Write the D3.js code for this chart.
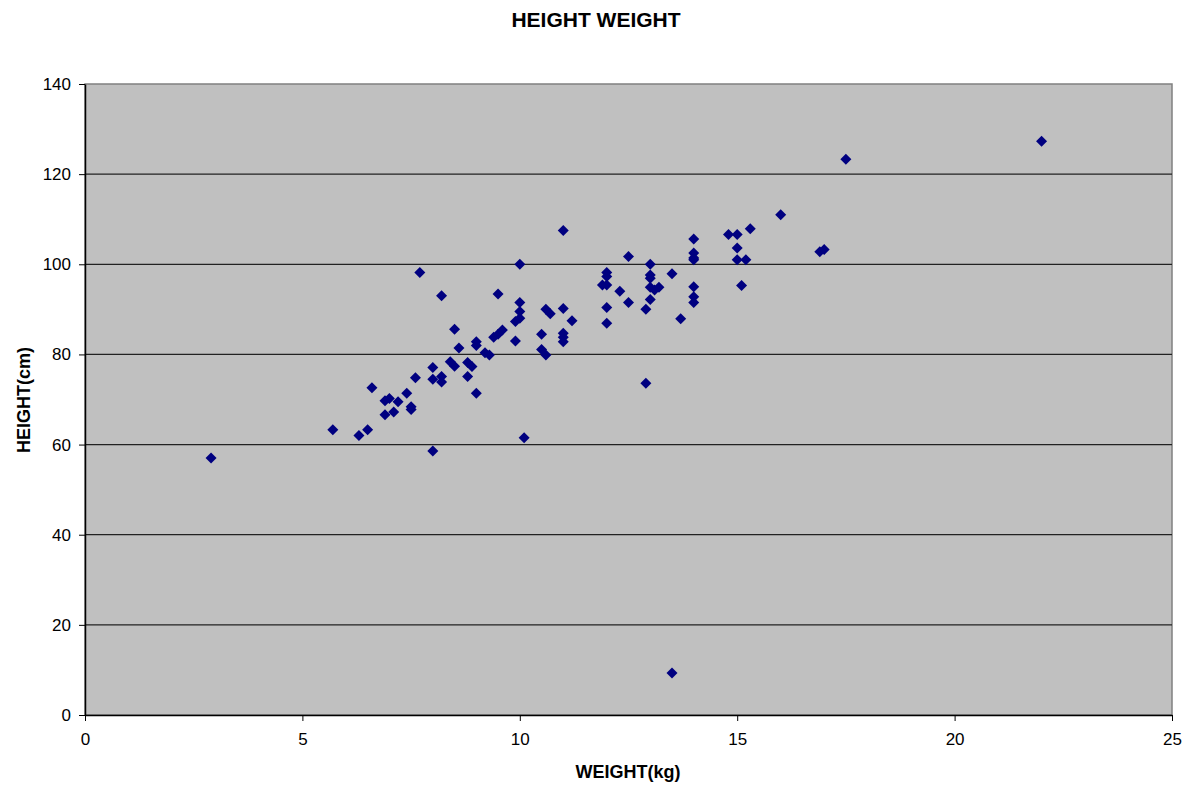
<!DOCTYPE html>
<html>
<head>
<meta charset="utf-8">
<script src="https://cdn.jsdelivr.net/npm/d3@7"></script>
<style>
  body { margin: 0; background: #fff; }
  text { font-family: Arial, "Liberation Sans", sans-serif; fill: #000; }
</style>
</head>
<body>
<div id="chart"></div>
<script>
// weight (kg)
const weight = [2.9, 5.7, 6.3, 6.5, 6.6, 6.9, 6.9, 7.0, 7.1, 7.2, 7.4, 7.5, 7.5, 7.6, 7.7,
  8.0, 8.0, 8.0, 8.2, 8.2, 8.2, 8.4, 8.5, 8.5, 8.6, 8.8, 8.8, 8.9, 9.0, 9.0, 9.0,
  9.2, 9.3, 9.4, 9.5, 9.5, 9.6, 9.9, 9.9, 10.0, 10.0, 10.0, 10.0, 10.1, 10.5, 10.5,
  10.6, 10.6, 10.7, 11.0, 11.0, 11.0, 11.0, 11.0, 11.2, 11.9, 12.0, 12.0, 12.0, 12.0,
  12.0, 12.3, 12.5, 12.5, 12.9, 12.9, 13.0, 13.0, 13.0, 13.0, 13.0, 13.1, 13.2, 13.5,
  13.5, 13.7, 14.0, 14.0, 14.0, 14.0, 14.0, 14.0, 14.0, 14.8, 15.0, 15.0, 15.0, 15.1,
  15.2, 15.3, 16.0, 16.9, 17.0, 17.5, 22.0];
// height (cm)
const height = [57.0, 63.3, 62.0, 63.3, 72.6, 66.6, 69.7, 70.2, 67.2, 69.5, 71.4, 68.4, 67.8, 74.8, 98.2,
  77.1, 74.5, 58.6, 75.1, 73.9, 93.0, 78.4, 77.4, 85.6, 81.4, 78.2, 75.1, 77.3, 82.8, 82.0, 71.4,
  80.4, 79.9, 83.8, 84.5, 93.4, 85.4, 83.0, 87.3, 88.0, 89.5, 91.5, 100.0, 61.5, 84.5, 81.1,
  79.9, 90.0, 89.0, 107.5, 90.2, 84.7, 83.8, 82.8, 87.5, 95.4, 98.2, 97.3, 95.4, 90.4,
  86.9, 94.0, 101.7, 91.5, 90.0, 73.6, 100.0, 97.6, 96.9, 94.9, 92.2, 94.3, 94.9, 97.9,
  9.3, 87.9, 105.6, 102.5, 101.4, 101.0, 95.0, 92.8, 91.5, 106.6, 106.6, 103.6, 101.0, 95.3,
  101.0, 107.9, 111.0, 102.8, 103.3, 123.3, 127.3];
const xTicks = [0, 5, 10, 15, 20, 25];
const yTicks = [0, 20, 40, 60, 80, 100, 120, 140];

const W = 1189, H = 788;
const margin = { top: 84, right: 17, bottom: 73, left: 85 };
const iw = W - margin.left - margin.right;
const ih = H - margin.top - margin.bottom;

const svg = d3.select("#chart").append("svg")
  .attr("width", W).attr("height", H);

const g = svg.append("g")
  .attr("transform", `translate(${margin.left},${margin.top})`);

const x = d3.scaleLinear().domain([0, 25]).range([0, iw]);
const y = d3.scaleLinear().domain([0, 140]).range([ih, 0]);

// plot area
g.append("rect")
  .attr("width", iw).attr("height", ih)
  .attr("fill", "#c0c0c0")
  .attr("stroke", "#808080").attr("stroke-width", 1.5);

// gridlines
g.selectAll(".grid")
  .data(yTicks.filter(d => d > 0 && d < 140))
  .enter().append("line")
  .attr("x1", 0).attr("x2", iw)
  .attr("y1", d => y(d)).attr("y2", d => y(d))
  .attr("stroke", "#222").attr("stroke-width", 1.2);

// axes
const xAxis = d3.axisBottom(x).tickValues(xTicks).tickSize(6).tickSizeOuter(0).tickPadding(12);
const yAxis = d3.axisLeft(y).tickValues(yTicks).tickSize(6).tickSizeOuter(0).tickPadding(8);

const gx = g.append("g").attr("transform", `translate(0,${ih})`).call(xAxis);
const gy = g.append("g").call(yAxis);
[gx, gy].forEach(a => {
  a.select(".domain").attr("stroke", "#000").attr("stroke-width", 1.5);
  a.selectAll(".tick line").attr("stroke", "#000");
  a.selectAll(".tick text").attr("font-size", 17).attr("fill", "#000")
    .attr("font-family", "Arial, 'Liberation Sans', sans-serif");
});

// points
const pts = weight.map((w, i) => ({ w, h: height[i] }));
g.selectAll(".pt")
  .data(pts)
  .enter().append("path")
  .attr("d", "M0,-5.5L5.5,0L0,5.5L-5.5,0Z")
  .attr("transform", d => `translate(${x(d.w)},${y(d.h)})`)
  .attr("fill", "#000080");

// titles
svg.append("text")
  .attr("x", 596).attr("y", 27)
  .attr("text-anchor", "middle")
  .attr("font-size", 21).attr("font-weight", "bold")
  .text("HEIGHT WEIGHT");

svg.append("text")
  .attr("x", 628).attr("y", 778)
  .attr("text-anchor", "middle")
  .attr("font-size", 18).attr("font-weight", "bold")
  .text("WEIGHT(kg)");

svg.append("text")
  .attr("transform", "translate(30,400) rotate(-90)")
  .attr("text-anchor", "middle")
  .attr("font-size", 18).attr("font-weight", "bold")
  .text("HEIGHT(cm)");
</script>
</body>
</html>
